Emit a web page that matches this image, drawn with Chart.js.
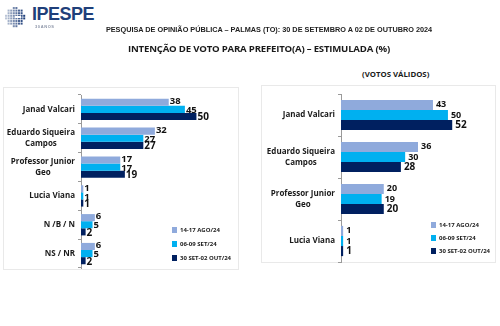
<!DOCTYPE html>
<html lang="pt-BR">
<head>
<meta charset="utf-8">
<title>Intenção de voto – Palmas (TO)</title>
<script src="https://cdn.jsdelivr.net/npm/chart.js@4/dist/chart.umd.min.js"></script>
<style>
  html, body { margin: 0; padding: 0; background: #fff; }
  body { width: 500px; height: 326px; position: relative; overflow: hidden; font-family: "Open Sans", sans-serif; color: #1a1a1a; }
  .abs { position: absolute; }
  #logo-dots { left: 4px; top: 6px; }
  .logo-txt { left: 32px; top: 4px; font: 700 18px "Liberation Sans", Arial, sans-serif; color: #1f3f7a; letter-spacing: -0.5px; }
  .logo-sub { left: 35px; top: 24px; font: 700 4px "Liberation Sans", Arial, sans-serif; color: #8a93a6; letter-spacing: 0.6px; }
  .head { left: 0; width: 538px; top: 25px; text-align: center; font: 700 7.3px "Liberation Sans", Arial, sans-serif; color: #222; }
  .title { left: 0; width: 518px; top: 42px; text-align: center; font: 700 9.6px "Open Sans", sans-serif; color: #1a1a1a; letter-spacing: -0.2px; }
  .sub { left: 362px; top: 69px; font: 700 7.8px "Open Sans", sans-serif; color: #1a1a1a; }
  .box { border: 1px solid #e9e9e9; box-sizing: border-box; }
  .leg { font: 700 6px "Open Sans", sans-serif; color: #1a1a1a; white-space: nowrap; line-height: 8px; }
  .leg i { display: inline-block; width: 5px; height: 6px; margin-right: 3px; vertical-align: -1px; }
</style>
</head>
<body>
<canvas id="logo-dots" class="abs" width="22" height="22"></canvas>
<div class="abs logo-txt">IPESPE</div>
<div class="abs logo-sub">30ANOS</div>
<div class="abs head">PESQUISA DE OPINIÃO PÚBLICA – PALMAS (TO): 30 DE SETEMBRO A 02 DE OUTUBRO 2024</div>
<div class="abs title">INTENÇÃO DE VOTO PARA PREFEITO(A) – ESTIMULADA (%)</div>
<div class="abs sub">(VOTOS VÁLIDOS)</div>

<div class="abs box" style="left:3px;top:87px;width:236px;height:183px;"></div>
<div class="abs box" style="left:261px;top:85px;width:235px;height:178px;"></div>
<canvas id="geral" class="abs" style="left:4px;top:88px;" width="234" height="181"></canvas>
<canvas id="validos" class="abs" style="left:262px;top:86px;" width="233" height="177"></canvas>
<div id="leg-geral" class="abs leg" style="left:172px;top:226px;"></div>
<div id="leg-validos" class="abs leg" style="left:431px;top:221px;"></div>

<script>
// rótulos das rodadas e cores
const rodadas = ["14-17 AGO/24", "06-09 SET/24", "30 SET-02 OUT/24"];
const cores = ["#8faadc", "#00b0f0", "#002060"];

// estimulada – total
const candidatosGeral = ["Janad Valcari", ["Eduardo Siqueira", "Campos"], ["Professor Junior", "Geo"], "Lucia Viana", "N /B / N", "NS / NR"];
const geralAgo = [38, 32, 17, 1, 6, 6];
const geralSet = [45, 27, 17, 1, 5, 5];
const geralOut = [50, 27, 19, 1, 2, 2];

// votos válidos
const candidatosValidos = ["Janad Valcari", ["Eduardo Siqueira", "Campos"], ["Professor Junior", "Geo"], "Lucia Viana"];
const validosAgo = [43, 36, 20, 1];
const validosSet = [50, 30, 19, 1];
const validosOut = [52, 28, 20, 1];

const fonte = '"Open Sans", sans-serif';

// logo: esfera de pontos
(function () {
  const c = document.getElementById("logo-dots").getContext("2d");
  for (let r = 0; r < 8; r++) {
    for (let k = 0; k < 8; k++) {
      const x = 2 + k * 2.6, y = 2 + r * 2.6;
      const dx = x - 11, dy = y - 11;
      if (dx * dx + dy * dy > 90) continue;
      const a = 0.3 + 0.7 * (k / 7);
      c.fillStyle = "rgba(31,63,122," + a.toFixed(2) + ")";
      c.fillRect(x - 1, y - 1, 2, 2);
    }
  }
  c.fillStyle = "#fff";
  c.fillRect(11, 10, 6, 2);
})();

// valores ao fim de cada barra
const valores = {
  id: "valores",
  afterDatasetsDraw(chart, args, opts) {
    const ctx = chart.ctx;
    ctx.save();
    ctx.fillStyle = "#111";
    ctx.textBaseline = "middle";
    ctx.textAlign = "left";
    chart.data.datasets.forEach((ds, i) => {
      const meta = chart.getDatasetMeta(i);
      ctx.font = "700 " + opts.sizes[i] + "px " + fonte;
      meta.data.forEach((bar, j) => {
        ctx.fillText(ds.data[j], bar.x + opts.gap, bar.y + opts.shift[i]);
      });
    });
    ctx.restore();
  }
};

// nomes dos candidatos: bloco alinhado à direita, linhas centralizadas
const nomes = {
  id: "nomes",
  afterDraw(chart, args, opts) {
    const ctx = chart.ctx;
    const ys = chart.scales.y;
    ctx.save();
    ctx.fillStyle = "#1a1a1a";
    ctx.font = "700 " + opts.size + "px " + fonte;
    ctx.textBaseline = "middle";
    ctx.textAlign = "center";
    chart.data.labels.forEach((lab, i) => {
      const linhas = Array.isArray(lab) ? lab : [lab];
      const w = Math.max(...linhas.map((l) => ctx.measureText(l).width));
      const cx = ys.right - opts.gap - w / 2;
      const yc = ys.getPixelForValue(i);
      linhas.forEach((l, k) => {
        ctx.fillText(l, cx, yc + (k - (linhas.length - 1) / 2) * opts.lh);
      });
    });
    ctx.restore();
  }
};

function barras(id, labels, series, cfg) {
  return new Chart(document.getElementById(id), {
    type: "bar",
    data: {
      labels: labels,
      datasets: series.map((d, i) => ({
        label: rodadas[i], data: d, backgroundColor: cores[i],
        categoryPercentage: cfg.cat, barPercentage: 1, borderWidth: 0
      }))
    },
    options: {
      indexAxis: "y",
      responsive: false,
      animation: false,
      layout: { padding: cfg.pad },
      plugins: {
        legend: { display: false },
        tooltip: { enabled: false },
        valores: { gap: cfg.gap, sizes: cfg.sizes, shift: cfg.shift },
        nomes: { size: cfg.nameSize, gap: 6, lh: cfg.lh }
      },
      scales: {
        x: { display: false, min: 0, max: cfg.max },
        y: {
          ticks: { display: false },
          border: { color: "#9a9a9a", width: 1 },
          grid: { drawOnChartArea: false, drawTicks: true, tickLength: 3, color: "#9a9a9a", offset: true },
          afterFit: (s) => { s.width = cfg.axisW; }
        }
      }
    },
    plugins: [valores, nomes]
  });
}

barras("geral", candidatosGeral, [geralAgo, geralSet, geralOut], {
  max: 68, axisW: 77, cat: 0.74, gap: 1,
  pad: { top: 7, bottom: 1, left: 0, right: 0 },
  sizes: [9.5, 9.5, 10], shift: [-1, 1, 1], nameSize: 8, lh: 11
});
barras("validos", candidatosValidos, [validosAgo, validosSet, validosOut], {
  max: 72, axisW: 79, cat: 0.72, gap: 3,
  pad: { top: 8, bottom: 1, left: 0, right: 0 },
  sizes: [9, 9, 10], shift: [0, 0, 0], nameSize: 8, lh: 11
});

// legendas das rodadas
function legenda(id, gapY) {
  document.getElementById(id).innerHTML = rodadas
    .map((r, i) => `<div style="margin-bottom:${gapY}px"><i style="background:${cores[i]}"></i>${r}</div>`)
    .join("");
}
legenda("leg-geral", 6);
legenda("leg-validos", 5);
</script>
</body>
</html>
